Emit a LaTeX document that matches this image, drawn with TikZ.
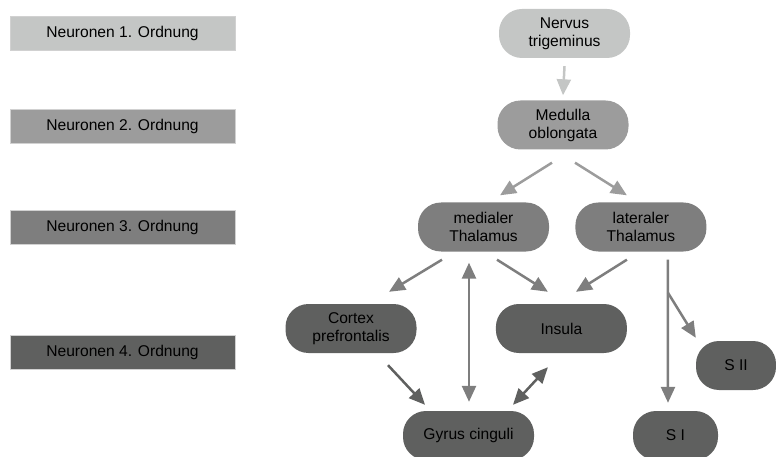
\documentclass[tikz,border=0pt]{standalone}
\usepackage{fontspec}
\setmainfont{Liberation Sans}
\usetikzlibrary{positioning, calc, arrows.meta}
\definecolor{ordone}{HTML}{C4C6C5}
\definecolor{ordtwo}{HTML}{9C9C9C}
\definecolor{ordthree}{HTML}{7E7E7E}
\definecolor{ordfour}{HTML}{5F605F}
\tikzstyle{ordbox} = [rectangle, minimum width=225pt, minimum height=34pt, text centered, draw=black!18, line width=0.8pt]
\tikzstyle{region} = [rectangle, rounded corners=23pt, minimum width=131pt, minimum height=49pt, align=center, inner sep=2pt]
\tikzstyle{arrow} = [line width=2.5pt, -{Triangle[length=16pt,width=14pt]}]
\tikzstyle{biarrow} = [line width=2.5pt, {Triangle[length=16pt,width=14pt]}-{Triangle[length=16pt,width=14pt]}]

\begin{document}
\begin{tikzpicture}[x=1pt, y=-1pt, font=\fontsize{15.6}{18}\selectfont]
\useasboundingbox (0,0) rectangle (776,457);
% Ordnungen
\node (ord1) [ordbox, fill=ordone] at (122.5,33) {Neuronen 1. Ordnung};
\node (ord2) [ordbox, fill=ordtwo] at (122.5,126) {Neuronen 2. Ordnung};
\node (ord3) [ordbox, fill=ordthree] at (122.5,227) {Neuronen 3. Ordnung};
\node (ord4) [ordbox, fill=ordfour] at (122.5,352) {Neuronen 4. Ordnung};
% Bahn
\node (nerv) [region, fill=ordone] at (564.5,33.5) {Nervus\\trigeminus};
\node (medu) [region, fill=ordtwo] at (563,125) {Medulla\\oblongata};
\node (medi) [region, fill=ordthree] at (483.5,227) {medialer\\Thalamus};
\node (late) [region, fill=ordthree, right=26pt of medi] {lateraler\\Thalamus};
\node (cort) [region, fill=ordfour] at (351,328.5) {Cortex\\prefrontalis};
\node (insu) [region, fill=ordfour, right=79pt of cort] {Insula};
\node (gyru) [region, fill=ordfour] at (468.5,435.5) {Gyrus cinguli};
\node (si) [region, fill=ordfour, minimum width=85pt] at (675.5,435.5) {S I};
\node (sii) [region, fill=ordfour, minimum width=80pt] at (736,365.5) {S II};
\coordinate (fork) at ($(late.south)+(27,41)$);
\draw [arrow, ordone] ($(nerv.south)+(0,8)$) -- ($(medu.north)+(0,-5)$);
\draw [arrow, ordtwo] ($(medu.south)+(-11,13)$) -- ($(medi.north)+(16.5,-7)$);
\draw [arrow, ordtwo] ($(medu.south)+(12,13)$) -- ($(late.north)+(-14,-7)$);
\draw [arrow, ordthree] ($(medi.south)+(-41.5,8)$) -- ($(cort.north)+(38,-12)$);
\draw [biarrow, ordthree] ($(medi.south)+(-14.5,11)$) -- ($(gyru.north)+(0.5,-9)$);
\draw [arrow, ordthree] ($(medi.south)+(13.5,8)$) -- ($(insu.north)+(-13.5,-12)$);
\draw [arrow, ordthree] ($(late.south)+(-14,8)$) -- ($(insu.north)+(14.5,-12)$);
\draw [arrow, ordthree] ($(late.south)+(27,8)$) -- ($(si.north)+(-7.5,-8)$);
\draw [arrow, ordthree] (fork) -- ($(sii.north west)+(0,-3)$);
\draw [arrow, ordfour] ($(cort.south)+(37,12)$) -- ($(gyru.north)+(-43.5,-6)$);
\draw [biarrow, ordfour] ($(insu.south)+(-13.5,14)$) -- ($(gyru.north)+(44.5,-6)$);
\end{tikzpicture}
\end{document}
